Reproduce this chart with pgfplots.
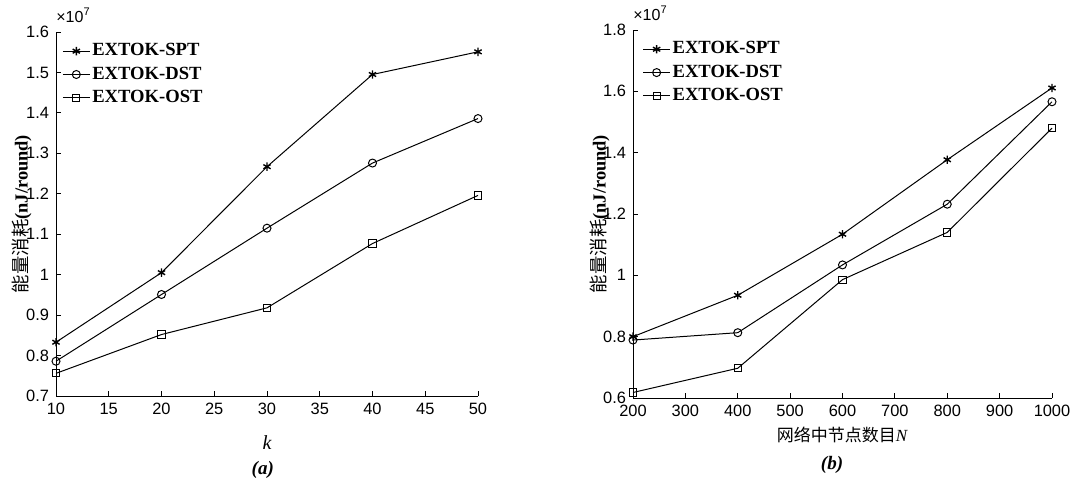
\documentclass[border=0pt]{standalone}
\usepackage{pgfplots}
\pgfplotsset{compat=1.18}
\usepackage{fontspec}
\setmainfont{Liberation Serif}
\newfontfamily\arial{Liberation Sans}
\newfontfamily\cjk{Noto Sans CJK SC}

\tikzset{
  x107/.style={anchor=south west, inner sep=0pt, font=\arial\fontsize{8}{8}\selectfont},
  caption/.style={font=\bfseries\itshape\fontsize{9.5}{9.5}\selectfont},
}

\pgfplotsset{
  energy/.style={
    scale only axis,
    clip=false,
    axis x line*=bottom,
    axis y line*=left,
    axis line style={-, line width=0.5pt},
    tick align=inside,
    major tick length=2.5pt,
    tick style={black, line width=0.5pt},
    ticklabel style={font=\arial\fontsize{8.2}{9}\selectfont},
    /pgf/number format/assume math mode=true,
    /pgf/number format/1000 sep={},
    scaled ticks=false,
    xlabel style={anchor=center},
    ylabel style={anchor=center, rotate=0},
    legend cell align=left,
    legend image code/.code={
      \draw[#1, mark=none] (0pt,0pt) -- (13.5pt,0pt);
      \draw[#1, only marks] plot coordinates {(6.75pt,0pt)};
    },
    legend style={draw=none, fill=none, inner sep=0pt, row sep=2pt,
      font=\bfseries\fontsize{9.3}{10}\selectfont,
      nodes={inner sep=1pt}},
    every axis plot/.append style={black, line width=0.5pt, mark options={solid, line width=0.5pt}},
  },
  spt/.style={mark=asterisk, mark size=2.1pt, mark options={line width=0.7pt}},
  dst/.style={mark=o, mark size=2pt},
  ost/.style={mark=square, mark size=1.8pt},
}

\begin{document}
\begin{tikzpicture}
\useasboundingbox (0,0) rectangle (535.5pt,239pt);

% (a) energy vs k
\begin{axis}[energy,
  at={(28pt,41pt)}, anchor=south west,
  width=211pt, height=182pt,
  xmin=10, xmax=50, ymin=0.7, ymax=1.6,
  xtick={10,15,20,25,30,35,40,45,50},
  ytick={0.7,0.8,0.9,1,1.1,1.2,1.3,1.4,1.5,1.6},
  xlabel={\fontsize{10}{10}\selectfont\itshape k},
  xlabel style={at={(axis description cs:0.5,-0.129)}},
  ylabel={\fontsize{9.2}{9.2}\selectfont{\cjk 能量消耗}\textbf{(nJ/round)}},
  ylabel style={at={(axis description cs:-0.081,0.5)}},
  legend style={at={(axis description cs:0.014,0.975)}, anchor=north west},
]
\addplot[spt] coordinates {(10,0.833) (20,1.005) (30,1.267) (40,1.495) (50,1.551)};
\addplot[dst] coordinates {(10,0.786) (20,0.951) (30,1.115) (40,1.276) (50,1.386)};
\addplot[ost] coordinates {(10,0.756) (20,0.852) (30,0.918) (40,1.077) (50,1.196)};
\legend{EXTOK-SPT, EXTOK-DST, EXTOK-OST}
\node[x107] at (axis description cs:0,1.025) {×10\raisebox{0.8ex}{\fontsize{5.5}{5.5}\selectfont 7}};
\node[caption] at (axis description cs:0.49,-0.203) {(a)};
\end{axis}

% (b) energy vs N
\begin{axis}[energy,
  at={(316.5pt,40pt)}, anchor=south west,
  width=209.5pt, height=184pt,
  xmin=200, xmax=1000, ymin=0.6, ymax=1.8,
  xtick={200,300,400,500,600,700,800,900,1000},
  ytick={0.6,0.8,1,1.2,1.4,1.6,1.8},
  xlabel={\fontsize{8.5}{8.5}\selectfont{\cjk 网络中节点数目}\textit{N}},
  xlabel style={at={(axis description cs:0.5,-0.1)}},
  ylabel={\fontsize{9.2}{9.2}\selectfont{\cjk 能量消耗}\textbf{(nJ/round)}},
  ylabel style={at={(axis description cs:-0.079,0.5)}},
  legend style={at={(axis description cs:0.022,0.975)}, anchor=north west},
]
\addplot[spt] coordinates {(200,0.800) (400,0.935) (600,1.134) (800,1.377) (1000,1.611)};
\addplot[dst] coordinates {(200,0.789) (400,0.813) (600,1.034) (800,1.232) (1000,1.566)};
\addplot[ost] coordinates {(200,0.618) (400,0.697) (600,0.986) (800,1.140) (1000,1.480)};
\legend{EXTOK-SPT, EXTOK-DST, EXTOK-OST}
\node[x107] at (axis description cs:0,1.025) {×10\raisebox{0.8ex}{\fontsize{5.5}{5.5}\selectfont 7}};
\node[caption] at (axis description cs:0.475,-0.182) {(b)};
\end{axis}
\end{tikzpicture}
\end{document}
